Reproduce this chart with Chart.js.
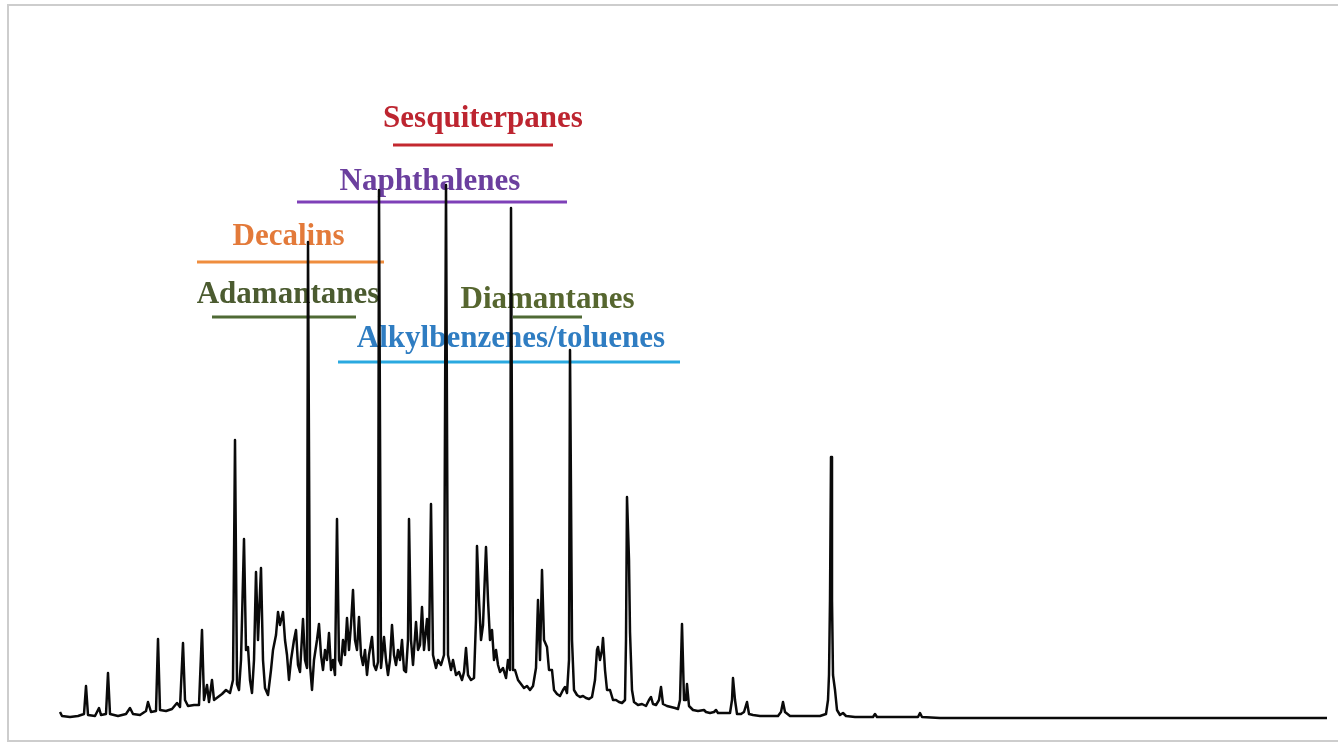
<!DOCTYPE html>
<html>
<head>
<meta charset="utf-8">
<title>GC trace</title>
<script src="https://cdn.jsdelivr.net/npm/chart.js@4.4.1/dist/chart.umd.min.js"></script>
<style>
  html, body { margin: 0; padding: 0; background: #fff; overflow: hidden; }
  #wrap { position: relative; width: 1338px; height: 744px; }
  #frame {
    position: absolute; left: 7px; top: 4px; width: 1340px; height: 738px;
    border: 2px solid #cdcdcd; box-sizing: border-box; pointer-events: none;
  }
  #trace { position: absolute; left: 0; top: 0; }
</style>
</head>
<body>
<div id="wrap">
  <div id="frame"></div>
  <canvas id="trace" width="1338" height="744"></canvas>
</div>
<script>
// Chromatogram: scan number vs detector signal
const scan = [
  0, 2, 10, 18, 24, 26, 28, 35, 39, 41, 46, 48, 50, 58, 66, 70, 73, 80, 86, 88,
  91, 96, 98, 100, 106, 112, 117, 120, 123, 125, 128, 134, 139, 142, 144, 147, 149, 152, 154, 158,
  162, 166, 170, 173, 175, 177, 179, 181, 184, 186, 188, 190, 192, 194, 196, 198, 201, 203, 205, 208,
  211, 213, 216, 218, 220, 223, 225, 227, 229, 231, 234, 236, 238, 240, 243, 245, 247, 248, 250, 252,
  254, 257, 259, 261, 263, 265, 267, 269, 271, 273, 275, 277, 279, 281, 283, 285, 287, 289, 291, 293,
  295, 297, 299, 301, 303, 305, 307, 309, 312, 314, 316, 318, 319, 321, 324, 326, 328, 330, 332, 334,
  336, 338, 340, 342, 344, 346, 348, 349, 351, 353, 356, 358, 360, 362, 364, 367, 369, 371, 373, 376,
  378, 381, 384, 386, 388, 391, 393, 396, 399, 402, 404, 406, 408, 411, 414, 416, 417, 419, 421, 423,
  426, 428, 430, 432, 434, 436, 438, 440, 443, 446, 448, 450, 451, 453, 455, 458, 461, 464, 467, 470,
  473, 476, 478, 480, 482, 484, 487, 489, 492, 494, 497, 500, 503, 505, 507, 509, 510, 512, 514, 517,
  520, 523, 526, 529, 532, 535, 537, 538, 540, 542, 543, 545, 547, 550, 553, 556, 559, 562, 565, 566,
  567, 569, 570, 572, 574, 578, 582, 586, 589, 591, 593, 596, 599, 601, 603, 607, 611, 615, 618, 620,
  622, 624, 626, 627, 629, 633, 638, 644, 646, 650, 654, 656, 658, 662, 666, 670, 672, 673, 675, 677,
  681, 684, 687, 689, 693, 700, 710, 718, 721, 723, 725, 730, 740, 750, 760, 766, 768, 769, 770, 771,
  772, 773, 775, 777, 780, 783, 786, 795, 805, 813, 815, 817, 830, 845, 858, 860, 862, 880, 940, 1000,
  1060, 1120, 1180, 1240, 1267
];
const signal = [
  6, 2, 1, 2, 4, 32, 3, 2, 10, 3, 4, 45, 4, 2, 4, 10, 4, 3, 7, 16,
  6, 7, 79, 8, 7, 9, 15, 11, 75, 18, 12, 13, 13, 88, 18, 33, 16, 38, 18, 21,
  24, 28, 25, 38, 278, 34, 28, 58, 179, 68, 71, 38, 25, 58, 146, 78, 150, 58, 30, 23,
  48, 68, 83, 106, 93, 106, 78, 63, 38, 58, 78, 88, 53, 46, 99, 58, 50, 476, 53, 28,
  58, 78, 94, 63, 48, 68, 58, 85, 48, 58, 43, 199, 58, 53, 78, 63, 100, 68, 93, 128,
  78, 68, 101, 63, 53, 68, 43, 63, 81, 53, 48, 56, 528, 50, 81, 58, 43, 58, 93, 63,
  53, 68, 58, 78, 48, 46, 78, 199, 78, 53, 96, 68, 73, 111, 68, 99, 68, 214, 63, 50,
  58, 53, 63, 533, 63, 48, 58, 43, 46, 38, 46, 70, 43, 38, 40, 98, 172, 118, 78, 93,
  171, 118, 78, 88, 58, 68, 53, 46, 50, 40, 58, 48, 510, 48, 48, 38, 34, 30, 32, 28,
  32, 50, 118, 58, 148, 78, 71, 48, 48, 28, 24, 22, 28, 31, 25, 58, 368, 78, 28, 23,
  21, 22, 20, 19, 21, 38, 68, 71, 58, 68, 80, 48, 28, 28, 18, 18, 16, 15, 18, 78,
  221, 158, 86, 28, 16, 13, 14, 12, 18, 21, 14, 13, 18, 31, 14, 12, 11, 10, 9, 18,
  94, 18, 18, 34, 12, 8, 7, 8, 6, 5, 6, 8, 5, 5, 5, 5, 18, 40, 18, 4,
  4, 6, 16, 4, 3, 2, 2, 2, 6, 16, 6, 2, 2, 2, 2, 4, 18, 43, 118, 261,
  118, 43, 28, 8, 3, 5, 2, 1, 1, 1, 4, 1, 1, 1, 1, 5, 1, 0, 0, 0,
  0, 0, 0, 0, 0
];

// Compound classes eluting over each scan window
const groupNames = ["Sesquiterpanes", "Naphthalenes", "Decalins", "Adamantanes", "Diamantanes", "Alkylbenzenes/toluenes"];
const groupFrom  = [333, 237, 137, 152, 453, 278];
const groupTo    = [493, 507, 324, 296, 522, 620];
const groupLevel = [573, 516, 456, 401, 401, 356];

// label styling
const barColors  = ["#c3282f", "#7e40b8", "#ef8d3e", "#4f6a35", "#4f6a35", "#2aa9e0"];
const textColors = ["#bd2530", "#6b3f9e", "#e37a3a", "#4b5b30", "#56662f", "#2f7dc2"];
const labelRise  = [18, 12, 17, 14, 9, 15];
const labelShift = [10, -2, -2, 4, 0, 2];

const tracePoints = scan.map((s, i) => ({ x: s, y: signal[i] }));

const datasets = [{
  data: tracePoints,
  borderColor: "#0a0a0a",
  borderWidth: 2.5,
  borderJoinStyle: "round",
  pointRadius: 0,
  tension: 0,
  clip: false
}];

groupNames.forEach((name, i) => {
  datasets.push({
    label: name,
    data: [{ x: groupFrom[i], y: groupLevel[i] }, { x: groupTo[i], y: groupLevel[i] }],
    borderColor: barColors[i],
    borderWidth: 3,
    pointRadius: 0,
    clip: false
  });
});

// group names sit above their bars, under the trace
const groupLabels = {
  id: "groupLabels",
  beforeDatasetsDraw(chart) {
    const { ctx, scales } = chart;
    ctx.save();
    ctx.font = "bold 31px 'Liberation Serif', 'Times New Roman', serif";
    ctx.textAlign = "center";
    ctx.textBaseline = "alphabetic";
    groupNames.forEach((name, i) => {
      const cx = scales.x.getPixelForValue((groupFrom[i] + groupTo[i]) / 2) + labelShift[i];
      const y = scales.y.getPixelForValue(groupLevel[i]) - labelRise[i];
      ctx.fillStyle = textColors[i];
      ctx.fillText(name, cx, y);
    });
    ctx.restore();
  }
};

new Chart(document.getElementById("trace").getContext("2d"), {
  type: "line",
  data: { datasets },
  options: {
    responsive: false,
    animation: false,
    parsing: true,
    layout: { padding: { left: 60, right: 11, top: 18, bottom: 26 } },
    scales: {
      x: { type: "linear", min: 0, max: 1267, display: false },
      y: { type: "linear", min: 0, max: 700, display: false }
    },
    plugins: {
      legend: { display: false },
      tooltip: { enabled: false }
    }
  },
  plugins: [groupLabels]
});
</script>
</body>
</html>
